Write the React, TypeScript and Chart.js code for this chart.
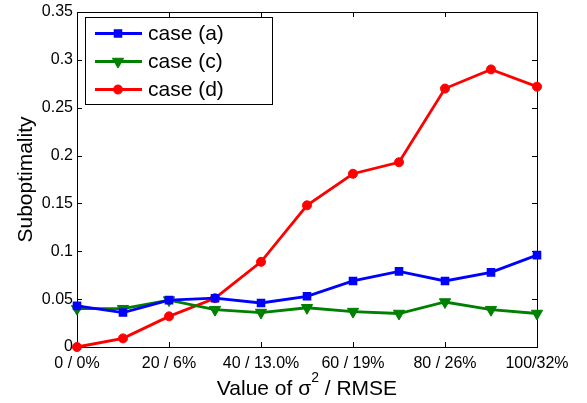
import React, { useEffect, useRef } from 'react';
import { Chart, registerables } from 'chart.js';
import { drawPoint } from 'chart.js/helpers';

Chart.register(...registerables);

const xValues = [0, 10, 20, 30, 40, 50, 60, 70, 80, 90, 100];
const caseA = [0.043, 0.036, 0.049, 0.051, 0.046, 0.053, 0.069, 0.079, 0.069, 0.078, 0.096];
const caseC = [0.040, 0.040, 0.049, 0.039, 0.036, 0.041, 0.037, 0.035, 0.047, 0.039, 0.035];
const caseD = [0.000, 0.009, 0.032, 0.051, 0.089, 0.148, 0.181, 0.193, 0.270, 0.290, 0.272];
const seriesNames = ['case (a)', 'case (c)', 'case (d)'];
const xTickValues = [0, 20, 40, 60, 80, 100];
const xTickLabels = ['0 / 0%', '20 / 6%', '40 / 13.0%', '60 / 19%', '80 / 26%', '100/32%'];
const yTickValues = [0, 0.05, 0.1, 0.15, 0.2, 0.25, 0.3, 0.35];
const yTickLabels = ['0', '0.05', '0.1', '0.15', '0.2', '0.25', '0.3', '0.35'];

const FONT = '"Liberation Sans", Arial, Helvetica, sans-serif';

const matlabPlugin = {
  id: 'matlabFrame',
  beforeDatasetsDraw(chart: any) {
    const { ctx, chartArea: a, scales } = chart;
    ctx.save();
    ctx.strokeStyle = '#000';
    ctx.lineWidth = 1;
    ctx.strokeRect(Math.round(a.left) + 0.5, Math.round(a.top) + 0.5, Math.round(a.right - a.left), Math.round(a.bottom - a.top));
    const tl = 5;
    ctx.beginPath();
    xTickValues.forEach((v) => {
      const px = Math.round(scales.x.getPixelForValue(v)) + 0.5;
      ctx.moveTo(px, a.bottom);
      ctx.lineTo(px, a.bottom - tl);
      ctx.moveTo(px, a.top);
      ctx.lineTo(px, a.top + tl);
    });
    yTickValues.forEach((v) => {
      const py = Math.round(scales.y.getPixelForValue(v)) + 0.5;
      ctx.moveTo(a.left, py);
      ctx.lineTo(a.left + tl, py);
      ctx.moveTo(a.right, py);
      ctx.lineTo(a.right - tl, py);
    });
    ctx.stroke();
    ctx.restore();
  },
  afterDatasetsDraw(chart: any) {
    const { ctx } = chart;
    ctx.save();
    // legend box
    const bx = 85.5, by = 17.5, bw = 187, bh = 87;
    ctx.fillStyle = '#fff';
    ctx.fillRect(bx, by, bw, bh);
    ctx.strokeStyle = '#000';
    ctx.lineWidth = 1;
    ctx.strokeRect(bx, by, bw, bh);
    chart.data.datasets.forEach((ds: any, i: number) => {
      const y = 33.5 + i * 28;
      ctx.strokeStyle = ds.borderColor;
      ctx.lineWidth = ds.borderWidth;
      ctx.beginPath();
      ctx.moveTo(95, y);
      ctx.lineTo(142, y);
      ctx.stroke();
      ctx.fillStyle = ds.pointBackgroundColor;
      ctx.strokeStyle = ds.borderColor;
      ctx.lineWidth = ds.pointBorderWidth;
      drawPoint(ctx, { pointStyle: ds.pointStyle, radius: ds.pointRadius, rotation: ds.pointRotation || 0, borderWidth: ds.pointBorderWidth }, 118, y);
      ctx.fillStyle = '#000';
      ctx.font = `21px ${FONT}`;
      ctx.textAlign = 'left';
      ctx.textBaseline = 'middle';
      ctx.fillText(ds.label, 148, y + 1);
    });
    ctx.restore();
  },
  afterDraw(chart: any) {
    const { ctx, chartArea: a } = chart;
    ctx.save();
    ctx.fillStyle = '#000';
    // x title with superscript
    const big = `21px ${FONT}`;
    const small = `14px ${FONT}`;
    const p1 = 'Value of \u03c3';
    const p2 = '2';
    const p3 = ' / RMSE';
    ctx.font = big;
    const w1 = ctx.measureText(p1).width;
    const w3 = ctx.measureText(p3).width;
    ctx.font = small;
    const w2 = ctx.measureText(p2).width;
    const total = w1 + w2 + w3;
    let x = (a.left + a.right) / 2 - total / 2;
    const base = 394.5;
    ctx.textAlign = 'left';
    ctx.textBaseline = 'alphabetic';
    ctx.font = big;
    ctx.fillText(p1, x, base);
    x += w1;
    ctx.font = small;
    ctx.fillText(p2, x, base - 13);
    x += w2;
    ctx.font = big;
    ctx.fillText(p3, x, base);
    // y title
    ctx.translate(31.5, (a.top + a.bottom) / 2);
    ctx.rotate(-Math.PI / 2);
    ctx.textAlign = 'center';
    ctx.fillText('Suboptimality', 0, 0);
    ctx.restore();
  },
};

export default function App() {
  const ref = useRef<HTMLCanvasElement | null>(null);
  useEffect(() => {
    if (!ref.current) return;
    const mk = (vals: number[]) => vals.map((v, i) => ({ x: xValues[i], y: v }));
    const chart = new Chart(ref.current, {
      type: 'line',
      data: {
        datasets: [
          {
            label: seriesNames[0], data: mk(caseA), borderColor: '#0000ff', backgroundColor: '#0000ff',
            pointBackgroundColor: '#0000ff', borderWidth: 2.8, pointStyle: 'rect', pointRadius: 5,
            pointBorderWidth: 1.5, pointHoverRadius: 5, tension: 0, clip: false,
          },
          {
            label: seriesNames[1], data: mk(caseC), borderColor: '#008000', backgroundColor: '#008000',
            pointBackgroundColor: '#008000', borderWidth: 2.8, pointStyle: 'triangle', pointRotation: 180,
            pointRadius: 6.5, pointBorderWidth: 1, pointHoverRadius: 6.5, tension: 0, clip: false,
          },
          {
            label: seriesNames[2], data: mk(caseD), borderColor: '#ff0000', backgroundColor: '#ff0000',
            pointBackgroundColor: '#ff0000', borderWidth: 2.8, pointStyle: 'circle', pointRadius: 4.5,
            pointBorderWidth: 1, pointHoverRadius: 4.5, tension: 0, clip: false,
          },
        ] as any,
      },
      options: {
        animation: false,
        responsive: false,
        events: [],
        layout: { padding: { top: 9, right: 50, left: 0, bottom: 0 } },
        plugins: { legend: { display: false }, tooltip: { enabled: false }, title: { display: false } },
        scales: {
          x: {
            type: 'linear', min: 0, max: 100,
            grid: { display: false, drawTicks: false },
            border: { display: false },
            afterBuildTicks: (s: any) => { s.ticks = xTickValues.map((v) => ({ value: v })); },
            afterFit: (s: any) => { s.height = 56; },
            ticks: {
              color: '#000', padding: 7, maxRotation: 0, autoSkip: false,
              font: { family: FONT, size: 16, lineHeight: 1.2 },
              callback: (v: any) => xTickLabels[xTickValues.indexOf(Number(v))] ?? '',
            },
          },
          y: {
            type: 'linear', min: 0, max: 0.35,
            grid: { display: false, drawTicks: false },
            border: { display: false },
            afterBuildTicks: (s: any) => { s.ticks = yTickValues.map((v) => ({ value: v })); },
            afterFit: (s: any) => { s.width = 77; },
            ticks: {
              color: '#000', padding: 4, autoSkip: false,
              font: { family: FONT, size: 16, lineHeight: 1 },
              callback: (v: any) => {
                const idx = yTickValues.findIndex((t) => Math.abs(t - Number(v)) < 1e-9);
                return idx >= 0 ? yTickLabels[idx] : '';
              },
            },
          },
        },
      } as any,
      plugins: [matlabPlugin],
    });
    return () => chart.destroy();
  }, []);
  return (
    <div style={{ position: 'fixed', left: 0, top: 0, width: 587, height: 403, background: '#fff' }}>
      <canvas ref={ref} width={587} height={403} style={{ display: 'block', width: 587, height: 403 }} />
    </div>
  );
}
